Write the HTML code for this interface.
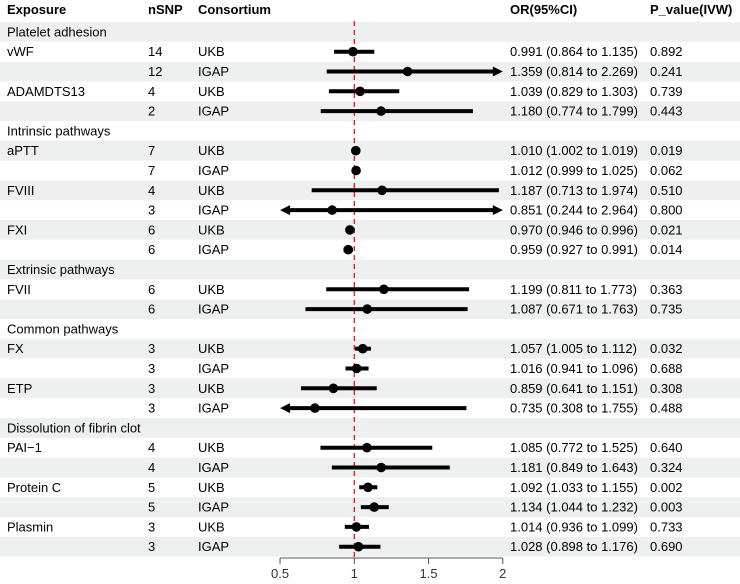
<!DOCTYPE html>
<html><head><meta charset="utf-8"><style>
body{margin:0;background:#fff;font-family:"Liberation Sans",Arial,sans-serif;}
svg text{font-family:"Liberation Sans",Arial,sans-serif;font-size:13px;fill:#000;}
</style></head><body>
<svg id="c" width="740" height="579"></svg>
<script>
const labels=["Platelet adhesion","vWF","","ADAMDTS13","","Intrinsic pathways","aPTT","","FVIII","","FXI","","Extrinsic pathways","FVII","","Common pathways","FX","","ETP","","Dissolution of fibrin clot","PAI−1","","Protein C","","Plasmin",""];
const nsnp=["","14","12","4","2","","7","7","4","3","6","6","","6","6","","3","3","3","3","","4","4","5","5","3","3"];
const cons=["","UKB","IGAP","UKB","IGAP","","UKB","IGAP","UKB","IGAP","UKB","IGAP","","UKB","IGAP","","UKB","IGAP","UKB","IGAP","","UKB","IGAP","UKB","IGAP","UKB","IGAP"];
const orv=[null,0.991,1.359,1.039,1.180,null,1.010,1.012,1.187,0.851,0.970,0.959,null,1.199,1.087,null,1.057,1.016,0.859,0.735,null,1.085,1.181,1.092,1.134,1.014,1.028];
const lo=[null,0.864,0.814,0.829,0.774,null,1.002,0.999,0.713,0.244,0.946,0.927,null,0.811,0.671,null,1.005,0.941,0.641,0.308,null,0.772,0.849,1.033,1.044,0.936,0.898];
const hi=[null,1.135,2.269,1.303,1.799,null,1.019,1.025,1.974,2.964,0.996,0.991,null,1.773,1.763,null,1.112,1.096,1.151,1.755,null,1.525,1.643,1.155,1.232,1.099,1.176];
const pv=["","0.892","0.241","0.739","0.443","","0.019","0.062","0.510","0.800","0.021","0.014","","0.363","0.735","","0.032","0.688","0.308","0.488","","0.640","0.324","0.002","0.003","0.733","0.690"];
const ticks=[0.5,1,1.5,2];
const NS="http://www.w3.org/2000/svg",svg=document.getElementById('c');
const X=v=>354.3+(v-1)*148.5, Y=i=>31.9+i*19.8;
function mk(t,a,p){const e=document.createElementNS(NS,t);for(const k in a)e.setAttribute(k,a[k]);(p||svg).appendChild(e);return e;}
function tx(x,y,s,bold){const e=mk('text',{x:x,y:y,'font-weight':bold?'bold':'normal'});e.textContent=s;return e;}
for(let i=0;i<labels.length;i++){if(i%2==0){const r=mk('rect',{x:0,y:Y(i)-9.9,width:740,height:19.8,fill:'#eef0f0'});

}}
[["Exposure",7],["nSNP",148],["Consortium",198],["OR(95%CI)",510],["P_value(IVW)",650]].forEach(h=>{const e=tx(h[1],14,h[0],true);

});
const d=mk('line',{x1:X(1),x2:X(1),y1:21,y2:557,stroke:'#e8141c','stroke-width':1.3,'stroke-dasharray':'5,4'});


for(let i=0;i<labels.length;i++){const y=Y(i)+4.5;
if(labels[i]){const e=tx(7,y,labels[i]);}
if(nsnp[i]){const e=tx(148,y,nsnp[i]);}
if(cons[i]){const e=tx(198,y,cons[i]);}
if(orv[i]!==null){
const e=tx(510,y,orv[i].toFixed(3)+" ("+lo[i].toFixed(3)+" to "+hi[i].toFixed(3)+")");


const p=tx(650,y,pv[i]);


const a=Math.max(lo[i],0.5),b=Math.min(hi[i],2),yc=Y(i);
const x1=X(a)+(lo[i]<0.5?8:0),x2=X(b)-(hi[i]>2?8:0);
const l=mk('line',{x1:x1,x2:x2,y1:yc,y2:yc,stroke:'#000','stroke-width':4});


if(lo[i]<0.5){const ar=mk('polygon',{points:`${X(0.5)},${yc} ${X(0.5)+10},${yc-5} ${X(0.5)+10},${yc+5}`,fill:'#000'});

}
if(hi[i]>2){const ar=mk('polygon',{points:`${X(2)},${yc} ${X(2)-10},${yc-5} ${X(2)-10},${yc+5}`,fill:'#000'});

}
const c=mk('circle',{cx:X(orv[i]),cy:yc,r:4.8,fill:'#000'});

}}
const ax=mk('line',{x1:X(0.5),x2:X(2),y1:558,y2:558,stroke:'#555','stroke-width':1});


ticks.forEach(t=>{const tk=mk('line',{x1:X(t),x2:X(t),y1:558,y2:564,stroke:'#555'});


const e=mk('text',{x:X(t),y:578,'text-anchor':'middle',style:'fill:#333'});e.textContent=String(t);

});
</script>
</body></html>
